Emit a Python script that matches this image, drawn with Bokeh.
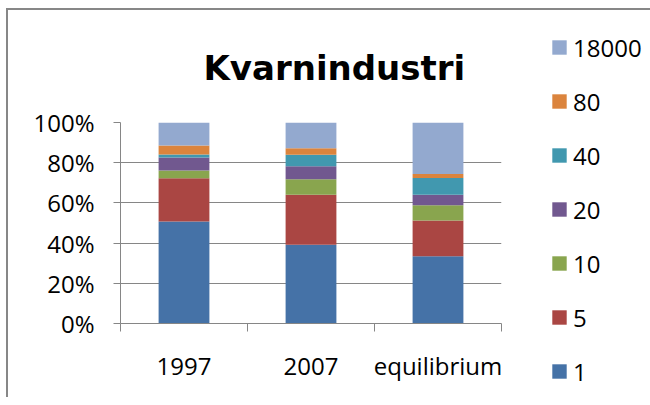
from bokeh.plotting import figure
from bokeh.models import (ColumnDataSource, Range1d, FixedTicker, LinearAxis,
                          PrintfTickFormatter, Legend, LegendItem, Title)
from bokeh.embed import file_html
from bokeh.resources import INLINE

# ---- data (percent shares) ----
categories = ["1997", "2007", "equilibrium"]
series_names = ["1", "5", "10", "20", "40", "80", "18000"]
s1 = [50.7, 39.2, 33.4]
s5 = [21.6, 24.8, 17.8]
s10 = [3.8, 7.8, 7.6]
s20 = [6.5, 6.4, 5.2]
s40 = [1.5, 5.7, 8.4]
s80 = [4.4, 3.3, 2.0]
s18000 = [11.5, 12.8, 25.6]
y_ticks = [0, 20, 40, 60, 80, 100]
title_text = "Kvarnindustri"

colors = ["#4572A7", "#AA4643", "#89A54E", "#71588F", "#4198AF", "#DB843D", "#93A9CF"]
FONT = "Open Sans"

xpos = [i + 0.5 for i in range(len(categories))]
data = {"x": xpos}
for name, vals in zip(series_names, [s1, s5, s10, s20, s40, s80, s18000]):
    data[name] = vals
source = ColumnDataSource(data)

p = figure(width=634, height=389, output_backend="svg", toolbar_location=None,
           x_range=Range1d(0, len(categories)), y_range=Range1d(0, 100),
           x_axis_location=None, y_axis_location=None,
           frame_width=381, frame_height=201,
           min_border_left=112, min_border_right=141, min_border_top=112,
           min_border_bottom=74)
p.styles = {"border-left": "2px solid #878787", "border-top": "2px solid #878787",
            "margin-left": "6px", "margin-top": "8px"}
p.outline_line_color = None
p.background_fill_color = "white"
p.border_fill_color = "white"

renderers = p.vbar_stack(series_names, x="x", width=0.4, source=source,
                         fill_color=colors, line_color=None)

# y axis
yax = LinearAxis(ticker=FixedTicker(ticks=y_ticks),
                 formatter=PrintfTickFormatter(format="%d%%"))
yax.axis_line_color = "#868686"
yax.major_tick_line_color = "#868686"
yax.major_tick_out = 7
yax.major_tick_in = 0
yax.minor_tick_line_color = None
yax.major_label_text_font = FONT
yax.major_label_text_font_size = "24px"
yax.major_label_text_color = "#000000"
yax.major_label_standoff = 19
p.add_layout(yax, "left")

# x axis: labels at centres, ticks at category boundaries
xax = LinearAxis(ticker=FixedTicker(ticks=xpos, minor_ticks=list(range(len(categories) + 1))))
xax.major_label_overrides = {x: c for x, c in zip(xpos, categories)}
xax.axis_line_color = "#868686"
xax.major_tick_line_color = None
xax.major_tick_out = 0
xax.major_tick_in = 0
xax.minor_tick_line_color = "#868686"
xax.minor_tick_out = 8
xax.minor_tick_in = 0
xax.major_label_text_font = FONT
xax.major_label_text_font_size = "24px"
xax.major_label_text_color = "#000000"
xax.major_label_standoff = 17
p.add_layout(xax, "below")

p.xgrid.visible = False
p.ygrid.ticker = FixedTicker(ticks=y_ticks)
p.ygrid.grid_line_color = "#868686"
p.ygrid.grid_line_width = 1

p.title = Title(text=title_text, text_font="DejaVu Sans", text_font_size="34px",
                text_font_style="bold", text_color="#000000", align="left",
                offset=83, standoff=70)

items = [LegendItem(label=n, renderers=[r]) for n, r in zip(series_names, renderers)]
items = items[::-1]
legend = Legend(items=items, location=(49, -66), orientation="vertical",
                label_text_font=FONT, label_text_font_size="24px",
                label_text_color="#000000", glyph_width=18, glyph_height=18,
                label_height=36, label_standoff=5, spacing=18, padding=0,
                margin=0, border_line_color=None, background_fill_alpha=0)
p.add_layout(legend, "right")

open("out.html", "w").write(file_html(p, INLINE))
